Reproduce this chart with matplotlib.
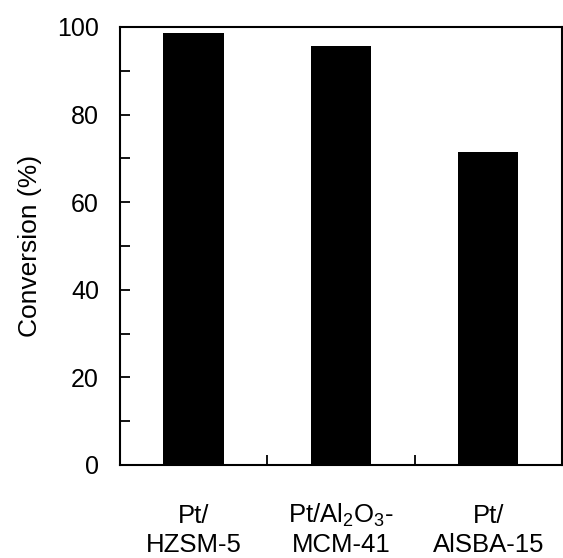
import numpy as np
import matplotlib.pyplot as plt
from matplotlib.ticker import MultipleLocator, FixedLocator

plt.rcParams['font.family'] = ['Liberation Sans', 'DejaVu Sans']
plt.rcParams['mathtext.fontset'] = 'custom'
plt.rcParams['mathtext.rm'] = 'Liberation Sans'
plt.rcParams['mathtext.it'] = 'Liberation Sans'
plt.rcParams['font.size'] = 18

# data
catalysts = ['Pt/\nHZSM-5', 'Pt/Al$_2$O$_3$-\nMCM-41', 'Pt/\nAlSBA-15']
conversion = [98.6, 95.7, 71.4]

fig = plt.figure(figsize=(5.63, 5.58), dpi=100)
ax = fig.add_axes([0.213, 0.1667, 0.785, 0.785])

x = np.arange(len(catalysts))
ax.bar(x, conversion, width=0.41, color='black')

ax.set_xlim(-0.5, 2.5)
ax.set_ylim(0, 100)
ax.yaxis.set_major_locator(MultipleLocator(20))
ax.yaxis.set_minor_locator(MultipleLocator(10))

# separator ticks between bars, labels at bar centres (two baseline-aligned lines)
ax.xaxis.set_major_locator(FixedLocator([0.5, 1.5]))
ax.set_xticklabels([])
ax.tick_params(axis='x', which='major', direction='in', length=7, width=1.3)
ax.tick_params(axis='y', which='both', direction='in', length=7, width=1.3)
ax.tick_params(axis='y', which='major', pad=15)

trans = ax.get_xaxis_transform()
for xi, lab in zip(x, catalysts):
    top, bottom = lab.split('\n')
    ax.text(xi, -0.1324, top, transform=trans, ha='center', va='baseline',
            fontsize=18.5, clip_on=False)
    ax.text(xi, -0.1986, bottom, transform=trans, ha='center', va='baseline',
            fontsize=18.5, clip_on=False)

for s in ax.spines.values():
    s.set_linewidth(1.5)

ax.set_ylabel('Conversion (%)', labelpad=11, fontsize=19)

fig.savefig('out.png', dpi=100)
